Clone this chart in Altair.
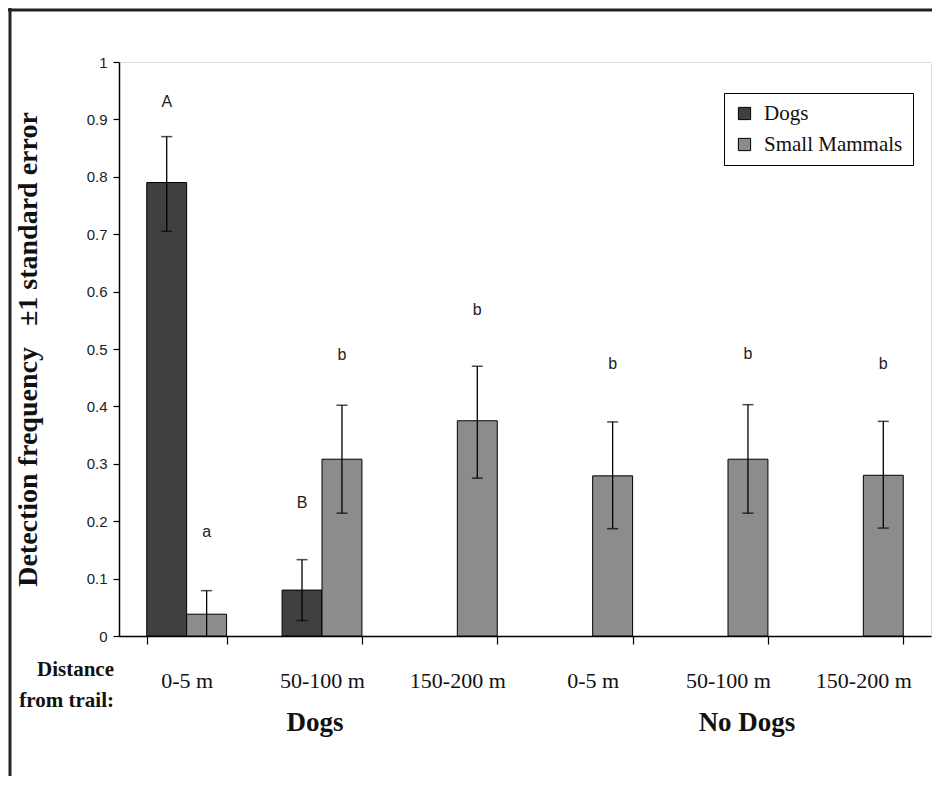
import altair as alt
import pandas as pd

categories = ["Dogs|0-5 m", "Dogs|50-100 m", "Dogs|150-200 m",
              "No Dogs|0-5 m", "No Dogs|50-100 m", "No Dogs|150-200 m"]
series = ["Dogs", "Small Mammals"]
colors = ["#404040", "#8c8c8c"]

dogs_mean = [0.79, 0.08, 0.0, 0.0, 0.0, 0.0]
dogs_lo = [0.705, 0.027, None, None, None, None]
dogs_hi = [0.87, 0.133, None, None, None, None]

sm_mean = [0.038, 0.308, 0.375, 0.279, 0.308, 0.28]
sm_lo = [0.0, 0.214, 0.275, 0.187, 0.214, 0.188]
sm_hi = [0.079, 0.402, 0.47, 0.373, 0.403, 0.374]

letter_cat = ["Dogs|0-5 m", "Dogs|0-5 m", "Dogs|50-100 m", "Dogs|50-100 m",
              "Dogs|150-200 m", "No Dogs|0-5 m", "No Dogs|50-100 m", "No Dogs|150-200 m"]
letter_series = ["Dogs", "Small Mammals", "Dogs", "Small Mammals",
                 "Small Mammals", "Small Mammals", "Small Mammals", "Small Mammals"]
letter_text = ["A", "a", "B", "b", "b", "b", "b", "b"]
letter_y = [0.93, 0.181, 0.232, 0.49, 0.568, 0.474, 0.491, 0.474]

y_ticks = [0, 0.1, 0.2, 0.3, 0.4, 0.5, 0.6, 0.7, 0.8, 0.9, 1.0]
y_title = "Detection frequency\u00a0\u00a0 \u00b11 standard error"

rows = []
for i, c in enumerate(categories):
    rows.append(dict(cat=c, series="Dogs", mean=dogs_mean[i], lo=dogs_lo[i], hi=dogs_hi[i]))
    rows.append(dict(cat=c, series="Small Mammals", mean=sm_mean[i], lo=sm_lo[i], hi=sm_hi[i]))
df = pd.DataFrame(rows)
bars_df = df[df["mean"] > 0]
err_df = df[df["hi"].notna()]
letters_df = pd.DataFrame(dict(cat=letter_cat, series=letter_series, text=letter_text, y=letter_y))

W, H = 812, 574
serif = "Liberation Serif"
sans = "Liberation Sans"

x_enc = alt.X("cat:N", sort=categories,
              scale=alt.Scale(domain=categories, paddingInner=0.41, paddingOuter=0.205),
              axis=alt.Axis(title=None, labelExpr="split(datum.label, '|')[1]",
                            tickBand="extent", tickSize=8, tickColor="black", tickWidth=1.2,
                            domainColor="black", domainWidth=1.5,
                            labelFont=serif, labelFontSize=22, labelColor="#111",
                            labelPadding=26, labelAngle=0))
xo_enc = alt.XOffset("series:N", scale=alt.Scale(domain=series, paddingInner=0, paddingOuter=0))
y_axis = alt.Axis(title=y_title, values=y_ticks, format="~g", grid=False,
                  tickSize=6, tickColor="black", tickWidth=1.2,
                  domainColor="black", domainWidth=1.5,
                  labelFont=sans, labelFontSize=15, labelColor="#222", labelPadding=6,
                  titleFont=serif, titleFontSize=28, titleFontWeight="bold",
                  titleColor="#111", titlePadding=44)
y_scale = alt.Scale(domain=[0, 1], nice=False)

bars = alt.Chart(bars_df).mark_bar(stroke="black", strokeWidth=1).encode(
    x=x_enc, xOffset=xo_enc,
    y=alt.Y("mean:Q", scale=y_scale, axis=y_axis),
    color=alt.Color("series:N", scale=alt.Scale(domain=series, range=colors),
                    legend=alt.Legend(title=None, orient="none", legendX=605, legendY=31,
                                      padding=10, strokeColor="black", fillColor="white",
                                      labelFont=serif, labelFontSize=21, labelColor="#111",
                                      symbolType="square", symbolSize=150,
                                      symbolStrokeColor="black", symbolStrokeWidth=1,
                                      symbolOpacity=1, rowPadding=9, labelOffset=9)),
)

err = alt.Chart(err_df).mark_rule(color="black", strokeWidth=1.3).encode(
    x=x_enc, xOffset=xo_enc,
    y=alt.Y("lo:Q", scale=y_scale, axis=y_axis), y2="hi:Q",
)
cap_hi = alt.Chart(err_df).mark_tick(color="black", size=11, thickness=1.5, orient="horizontal").encode(
    x=x_enc, xOffset=xo_enc, y=alt.Y("hi:Q", scale=y_scale, axis=y_axis),
)
cap_lo = alt.Chart(err_df[err_df["lo"] > 0]).mark_tick(color="black", size=11, thickness=1.5, orient="horizontal").encode(
    x=x_enc, xOffset=xo_enc, y=alt.Y("lo:Q", scale=y_scale, axis=y_axis),
)

letters = alt.Chart(letters_df).mark_text(font=sans, fontSize=16, color="#222", baseline="middle").encode(
    x=x_enc, xOffset=xo_enc, y=alt.Y("y:Q", scale=y_scale, axis=y_axis), text="text:N",
)

one = pd.DataFrame({"k": [0]})
dist_label = alt.Chart(one).mark_text(font=serif, fontSize=21, fontWeight="bold", color="#111",
                                      align="right", baseline="middle", lineBreak="\n",
                                      lineHeight=31).encode(
    x=alt.value(-5), y=alt.value(608), text=alt.value("Distance\nfrom trail:"))

grp_dogs = alt.Chart(one).mark_text(font=serif, fontSize=27, fontWeight="bold", color="#111",
                                    align="center", baseline="middle").encode(
    x=alt.value(315 - 119), y=alt.value(723 - 62), text=alt.value("Dogs"))
grp_nodogs = alt.Chart(one).mark_text(font=serif, fontSize=27, fontWeight="bold", color="#111",
                                      align="center", baseline="middle").encode(
    x=alt.value(747 - 119), y=alt.value(723 - 62), text=alt.value("No Dogs"))

frame_top = alt.Chart(one).mark_rule(color="#222", strokeWidth=3).encode(
    x=alt.value(-111), x2=alt.value(W + 1), y=alt.value(-52))
frame_left = alt.Chart(one).mark_rule(color="#222", strokeWidth=3).encode(
    x=alt.value(-109), y=alt.value(-54), y2=alt.value(H + 140))

chart = alt.layer(bars, err, cap_hi, cap_lo, letters, dist_label, grp_dogs, grp_nodogs,
                  frame_top, frame_left).properties(
    width=W, height=H,
    autosize=alt.AutoSizeParams(type="none"),
    padding={"left": 111, "top": 54, "right": 1, "bottom": 140},
).configure_view(stroke="#999", strokeDash=[1, 1], strokeWidth=1.5).configure(background="white")

chart.save("out.html", embed_options={"renderer": "svg", "actions": False})
